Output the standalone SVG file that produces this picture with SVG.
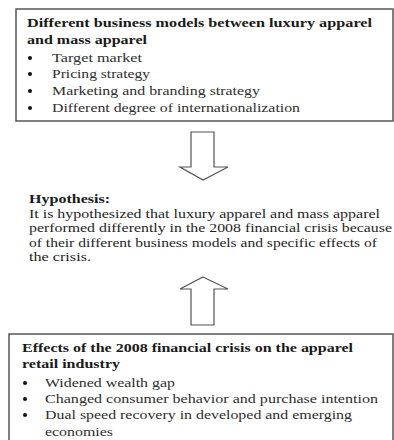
<svg xmlns="http://www.w3.org/2000/svg" width="394" height="440" viewBox="0 0 394 440">
<style>
.box{fill:#fff;stroke:#555;stroke-width:1.5}
.arr{fill:#fff;stroke:#555;stroke-width:1.2}
text{font-family:"Liberation Serif","Times New Roman",serif;font-size:13.5px;fill:#222}
.b{font-weight:bold;fill:#1a1a1a}
.h{font-size:13px;fill:#1e1e1e}
.it{fill:#2e2e2e}
.dot{fill:#111}
</style>
<rect width="394" height="440" fill="#fff"/>
<g id="business-models">
<rect class="box" x="16" y="9" width="377" height="112"/>
<text class="b" x="27" y="27" textLength="345" lengthAdjust="spacingAndGlyphs">Different business models between luxury apparel</text>
<text class="b" x="27" y="44" textLength="120" lengthAdjust="spacingAndGlyphs">and mass apparel</text>
<circle class="dot" cx="30" cy="58" r="2"/>
<text class="it" x="52" y="62" textLength="90" lengthAdjust="spacingAndGlyphs">Target market</text>
<circle class="dot" cx="30" cy="74" r="2"/>
<text class="it" x="52" y="78" textLength="98" lengthAdjust="spacingAndGlyphs">Pricing strategy</text>
<circle class="dot" cx="30" cy="91" r="2"/>
<text class="it" x="52" y="95" textLength="208" lengthAdjust="spacingAndGlyphs">Marketing and branding strategy</text>
<circle class="dot" cx="30" cy="108" r="2"/>
<text class="it" x="52" y="112" textLength="248" lengthAdjust="spacingAndGlyphs">Different degree of internationalization</text>
</g>
<g id="hypothesis">
<text class="b" x="29" y="203" textLength="81" lengthAdjust="spacingAndGlyphs">Hypothesis:</text>
<text class="h" x="29" y="218" textLength="351" lengthAdjust="spacingAndGlyphs">It is hypothesized that luxury apparel and mass apparel</text>
<text class="h" x="29" y="232" textLength="363" lengthAdjust="spacingAndGlyphs">performed differently in the 2008 financial crisis because</text>
<text class="h" x="29" y="247" textLength="348" lengthAdjust="spacingAndGlyphs">of their different business models and specific effects of</text>
<text class="h" x="29" y="261" textLength="62" lengthAdjust="spacingAndGlyphs">the crisis.</text>
</g>
<g id="crisis-effects">
<rect class="box" x="9" y="334" width="384" height="120"/>
<text class="b" x="22" y="352" textLength="331" lengthAdjust="spacingAndGlyphs">Effects of the 2008 financial crisis on the apparel</text>
<text class="b" x="22" y="368" textLength="98" lengthAdjust="spacingAndGlyphs">retail industry</text>
<circle class="dot" cx="25" cy="383" r="2"/>
<text class="it" x="45" y="387" textLength="130" lengthAdjust="spacingAndGlyphs">Widened wealth gap</text>
<circle class="dot" cx="25" cy="399" r="2"/>
<text class="it" x="45" y="403" textLength="333" lengthAdjust="spacingAndGlyphs">Changed consumer behavior and purchase intention</text>
<circle class="dot" cx="25" cy="415" r="2"/>
<text class="it" x="45" y="419" textLength="307" lengthAdjust="spacingAndGlyphs">Dual speed recovery in developed and emerging</text>
<text class="it" x="45" y="436" textLength="68" lengthAdjust="spacingAndGlyphs">economies</text>
</g>
<g id="connectors">
<polygon class="arr" points="191,132 214,132 214,167 228,167 203,180 180,167 191,167"/>
<polygon class="arr" points="203,277 228,289 214,289 214,325 191,325 191,289 180,289"/>
</g>
</svg>
